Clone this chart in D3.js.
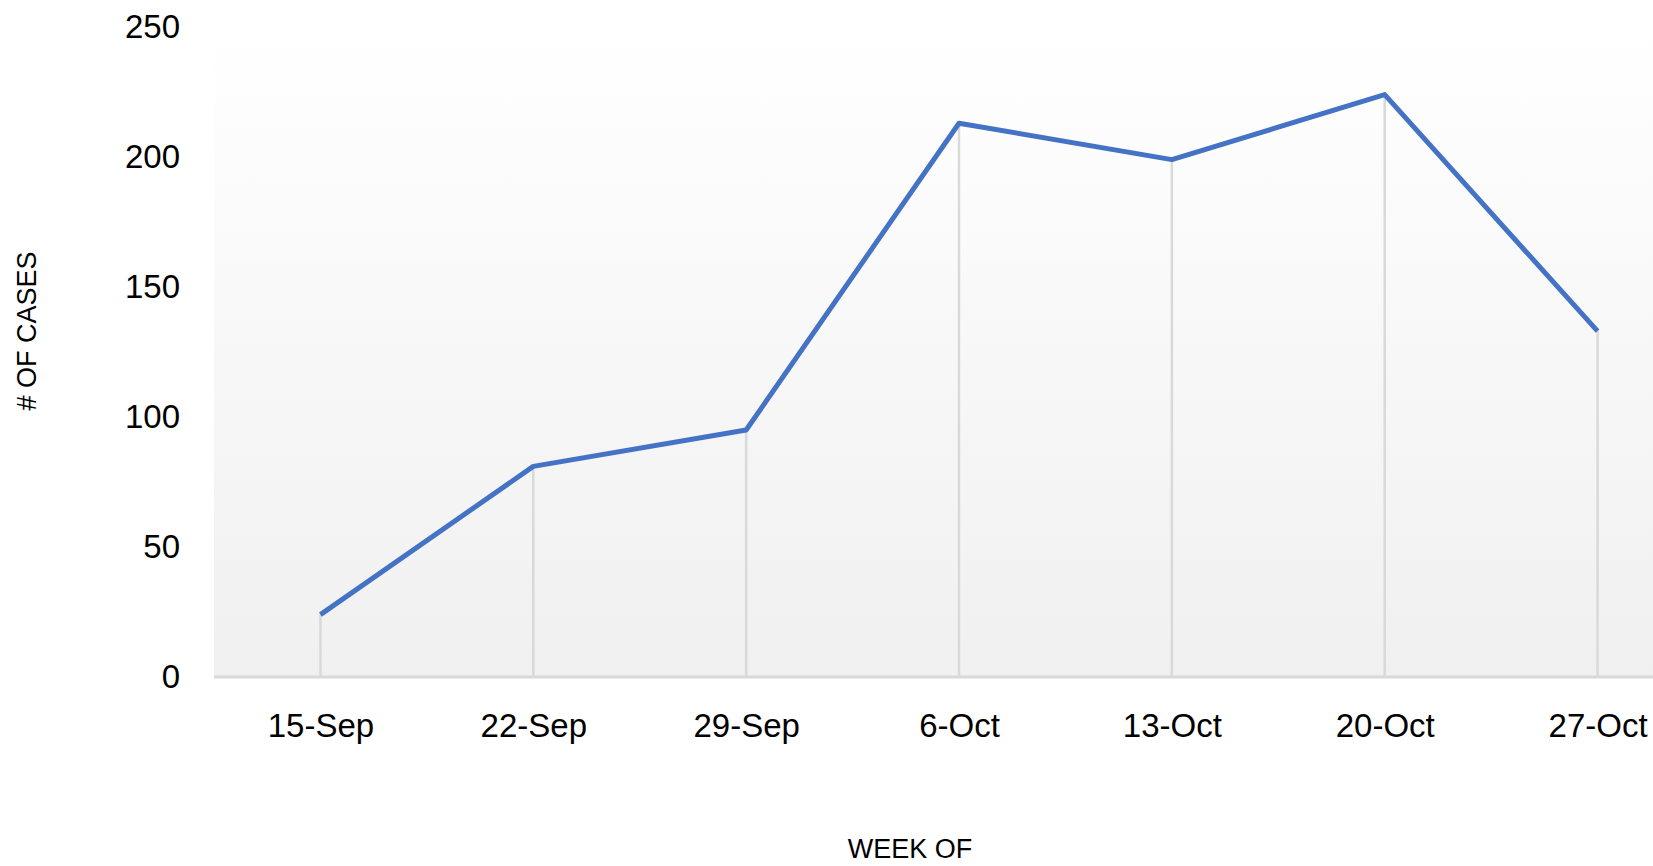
<!DOCTYPE html>
<html>
<head>
<meta charset="utf-8">
<script src="https://cdn.jsdelivr.net/npm/d3@7"></script>
<style>
  body { margin: 0; background: #fff; }
  svg { display: block; font-family: "Liberation Sans", Arial, sans-serif; }
  .domain { display: none; }
</style>
</head>
<body>
<svg width="1653" height="866"></svg>
<script>

// weekly case counts
var weeks = ["15-Sep", "22-Sep", "29-Sep", "6-Oct", "13-Oct", "20-Oct", "27-Oct"];
var cases = [24, 81, 95, 213, 199, 224, 133];
var yTicks = [0, 50, 100, 150, 200, 250];

var data = weeks.map(function (w, i) { return { week: w, n: cases[i] }; });

var svg = d3.select("svg");

xScale = d3.scalePoint().domain(weeks).range([214, 1704]).padding(0.5);
yScale = d3.scaleLinear().domain([0, 250]).range([677, 27]);

// plot area background, light grey fade towards the bottom
var grad = svg.append("defs").append("linearGradient")
    .attr("id", "bg").attr("x1", 0).attr("y1", 0).attr("x2", 0).attr("y2", 1);
grad.append("stop").attr("offset", "0%").attr("stop-color", "#ffffff");
grad.append("stop").attr("offset", "100%").attr("stop-color", "#f0f0f0");

svg.append("rect")
    .attr("x", 214).attr("y", yScale(250))
    .attr("width", 1704 - 214).attr("height", yScale(0) - yScale(250))
    .attr("fill", "url(#bg)");

// drop lines from each point to the axis
svg.append("g").selectAll("line").data(data).enter().append("line")
    .attr("x1", function (d) { return xScale(d.week); })
    .attr("x2", function (d) { return xScale(d.week); })
    .attr("y1", function (d) { return yScale(d.n); })
    .attr("y2", yScale(0))
    .attr("stroke", "#d9d9d9").attr("stroke-width", 2.5);

// baseline
svg.append("line")
    .attr("x1", 214).attr("x2", 1704)
    .attr("y1", yScale(0)).attr("y2", yScale(0))
    .attr("stroke", "#d9d9d9").attr("stroke-width", 3);

yAxis = d3.axisLeft(yScale).tickValues(yTicks).tickSize(0).tickPadding(34);
svg.append("g").attr("id", "yAxisG").attr("transform", "translate(214,0)").call(yAxis);

xAxis = d3.axisBottom(xScale).tickSize(0).tickPadding(37);
svg.append("g").attr("id", "xAxisG").attr("transform", "translate(0," + yScale(0) + ")").call(xAxis);

svg.selectAll(".tick text")
    .attr("font-family", "Liberation Sans, Arial, sans-serif")
    .attr("font-size", 33).attr("fill", "#000");

var caseLine = d3.line()
    .x(function (d) { return xScale(d.week); })
    .y(function (d) { return yScale(d.n); });

svg.append("path")
    .attr("d", caseLine(data))
    .attr("fill", "none")
    .attr("stroke", "#4472c4")
    .attr("stroke-width", 5)
    .attr("stroke-linejoin", "round");

// axis titles
svg.append("text")
    .attr("transform", "translate(36,331) rotate(-90)")
    .attr("text-anchor", "middle")
    .attr("font-size", 27)
    .text("# OF CASES");

svg.append("text")
    .attr("x", 910).attr("y", 858)
    .attr("text-anchor", "middle")
    .attr("font-size", 27)
    .text("WEEK OF");
</script>
</body>
</html>
